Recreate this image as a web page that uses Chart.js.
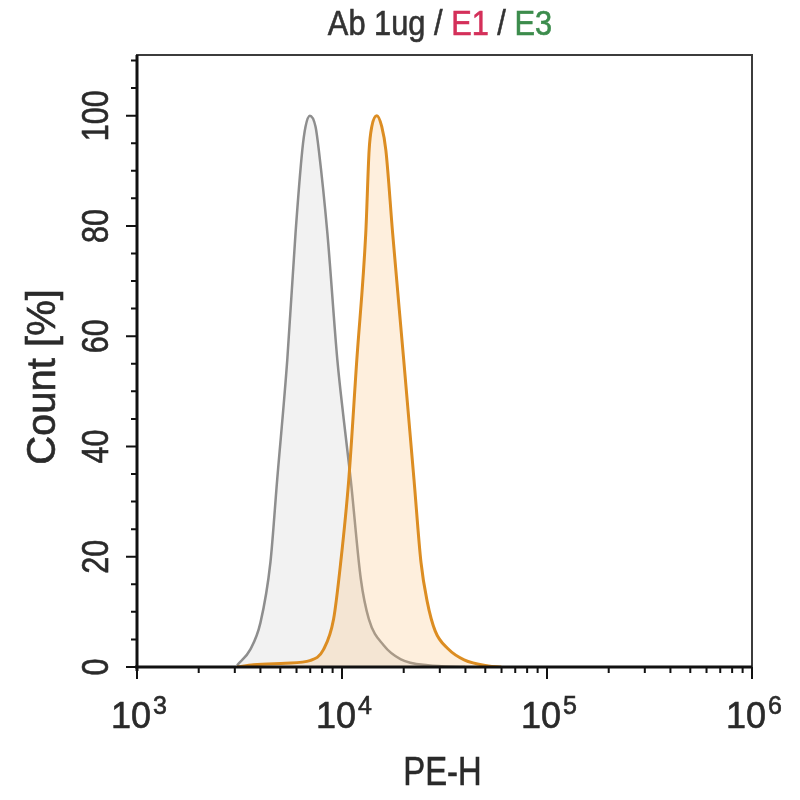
<!DOCTYPE html>
<html>
<head>
<meta charset="utf-8">
<script src="https://cdn.jsdelivr.net/npm/chart.js@4.4.1/dist/chart.umd.min.js"></script>
<style>
  html, body { margin: 0; padding: 0; background: #fff; }
  #wrap { width: 800px; height: 800px; }
</style>
</head>
<body>
<div id="wrap"><canvas id="myChart"></canvas></div>
<script>
// isotype control (grey) - PE-H value vs count %
const isotypeX = [3078, 3573, 3999, 4476, 4829, 5408, 5934, 6400, 6637, 6970, 7430, 7710, 8485, 9490, 10190, 11030, 12350, 13520, 16000, 19370, 26240, 39800];
const isotypeY = [0.3, 3.2, 8, 19, 34, 55.7, 78.7, 93.7, 98, 100, 98, 93.7, 78.7, 55.7, 45, 34, 16, 8.7, 3.9, 1.4, 0.3, 0];

// stained sample (orange)
const sampleX = [3083, 3699, 5296, 7031, 8133, 9100, 9858, 10790, 11810, 13060, 13560, 13970, 14790, 15630, 16370, 17660, 20000, 22450, 24280, 26000, 28500, 32890, 39430, 51640, 59800];
const sampleY = [0, 0.4, 0.7, 1.2, 3.2, 8.7, 19, 34, 55.7, 78.7, 93.7, 98, 100, 98, 93.7, 78.7, 55.7, 34, 19, 12, 6.5, 3.3, 1.3, 0.2, 0];

const yTicks = [0, 20, 40, 60, 80, 100];
const xTicks = [1e3, 1e4, 1e5, 1e6];
const xTickExp = ['3', '4', '5', '6'];
const titleParts = [['Ab 1ug / ', '#333333'], ['E1', '#d4305a'], [' / ', '#333333'], ['E3', '#3c8c4c']];

const FONT = '"Liberation Sans", Arial, sans-serif';

function toPoints(xs, ys) {
    return xs.map((v, i) => ({ x: v, y: ys[i] }))
}

function drawText(ctx, txt, x, y, size, sx, rot, align) {
    ctx.save()
    ctx.translate(x, y)
    if (rot) ctx.rotate(rot)
    ctx.scale(sx, 1)
    ctx.font = size + 'px ' + FONT
    ctx.textAlign = align || 'center'
    ctx.textBaseline = 'alphabetic'
    ctx.fillText(txt, 0, 0)
    ctx.lineWidth = 0.6
    ctx.strokeStyle = ctx.fillStyle
    ctx.strokeText(txt, 0, 0)
    ctx.restore()
}

const axesPlugin = {
    id: 'axesPlugin',
    afterDatasetsDraw(chart) {
        const { ctx, chartArea: a, scales: { x, y } } = chart
        ctx.save()
        // frame
        ctx.strokeStyle = '#3c3c3c'
        ctx.lineWidth = 2
        ctx.strokeRect(a.left, a.top, a.right - a.left, a.bottom - a.top)
        ctx.strokeStyle = '#111'
        ctx.lineWidth = 3
        ctx.beginPath()
        ctx.moveTo(a.left, a.top)
        ctx.lineTo(a.left, a.bottom + 4)
        ctx.moveTo(a.left - 2, a.bottom)
        ctx.lineTo(a.right, a.bottom)
        ctx.stroke()

        // y ticks
        ctx.lineWidth = 2
        ctx.beginPath()
        for (let v = 0; v <= 110; v += 5) {
            const py = y.getPixelForValue(v)
            const len = yTicks.includes(v) ? 11 : 6
            ctx.moveTo(a.left, py)
            ctx.lineTo(a.left - len, py)
        }
        // x ticks (log)
        for (let d = 3; d < 6; d++) {
            for (let m = 1; m < 10; m++) {
                const px = x.getPixelForValue(m * Math.pow(10, d))
                const len = m === 1 ? 12 : 6
                ctx.moveTo(px, a.bottom)
                ctx.lineTo(px, a.bottom + len)
            }
        }
        const p6 = x.getPixelForValue(1e6)
        ctx.moveTo(p6, a.bottom)
        ctx.lineTo(p6, a.bottom + 12)
        ctx.stroke()

        // tick labels
        ctx.fillStyle = '#2a2a2a'
        yTicks.forEach(v => {
            drawText(ctx, String(v), a.left - 29, y.getPixelForValue(v), 36, 0.85, -Math.PI / 2, 'center')
        })
        xTicks.forEach((v, i) => {
            const px = x.getPixelForValue(v)
            ctx.font = '36px ' + FONT
            const w1 = ctx.measureText('10').width
            ctx.font = '25px ' + FONT
            const w2 = ctx.measureText(xTickExp[i]).width
            const left = px - (w1 + w2 + 2) / 2 + 2
            drawText(ctx, '10', left, a.bottom + 61, 36, 1, 0, 'left')
            drawText(ctx, xTickExp[i], left + w1 + 2, a.bottom + 47, 25, 1, 0, 'left')
        })

        // axis titles
        drawText(ctx, 'PE-H', (a.left + a.right) / 2 - 2, a.bottom + 118, 40, 0.82, 0, 'center')
        drawText(ctx, 'Count [%]', 55, 377, 40, 1, -Math.PI / 2, 'center')

        // coloured title
        ctx.font = '35px ' + FONT
        const sx = 0.88
        const widths = titleParts.map(p => ctx.measureText(p[0]).width * sx)
        let tx = 440 - widths.reduce((s, w) => s + w, 0) / 2
        titleParts.forEach((p, i) => {
            ctx.fillStyle = p[1]
            drawText(ctx, p[0], tx, 35, 35, sx, 0, 'left')
            tx += widths[i]
        })
        ctx.restore()
    }
}

const ctx = document.getElementById('myChart')
new Chart(ctx, {
    type: 'scatter',
    data: {
        datasets: [{
                label: 'isotype',
                data: toPoints(isotypeX, isotypeY),
                showLine: true,
                borderColor: '#8e8e8e',
                backgroundColor: 'rgba(232,232,232,0.55)',
                borderWidth: 2.5,
                pointRadius: 0,
                fill: 'origin',
                order: 2,
                cubicInterpolationMode: 'monotone'
            },
            {
                label: 'sample',
                data: toPoints(sampleX, sampleY),
                showLine: true,
                borderColor: '#dc8d22',
                backgroundColor: 'rgba(250,190,120,0.25)',
                borderWidth: 3,
                pointRadius: 0,
                fill: 'origin',
                order: 1,
                cubicInterpolationMode: 'monotone'
            }
        ]
    },
    options: {
        responsive: true,
        maintainAspectRatio: false,
        animation: false,
        layout: { padding: { left: 137, right: 48, top: 55, bottom: 133 } },
        scales: {
            x: { type: 'logarithmic', min: 1e3, max: 1e6, display: false },
            y: { type: 'linear', min: 0, max: 111, display: false }
        },
        plugins: {
            legend: { display: false },
            tooltip: { enabled: false }
        }
    },
    plugins: [axesPlugin]
})
</script>
</body>
</html>
